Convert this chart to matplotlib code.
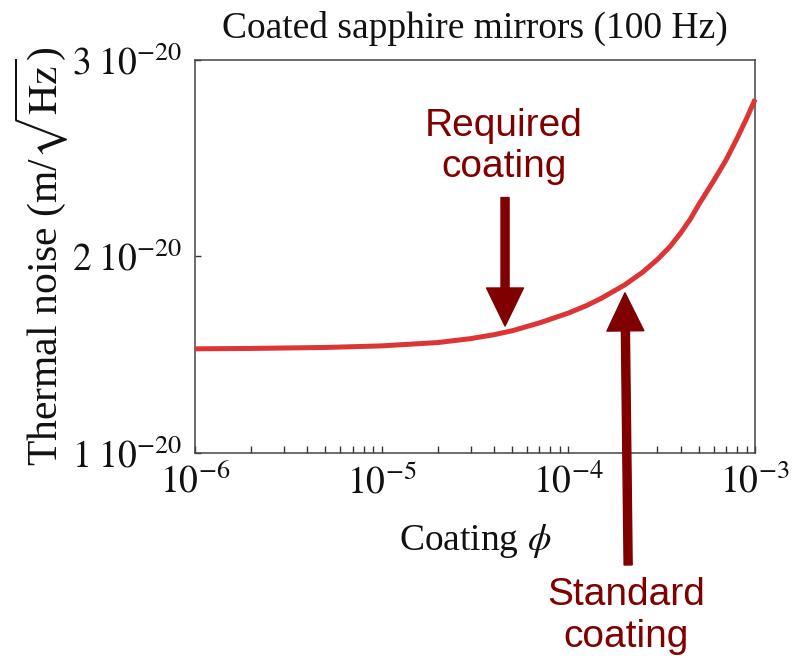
import matplotlib
matplotlib.use("Agg")
import matplotlib.pyplot as plt
from matplotlib.ticker import FixedLocator, LogLocator, NullFormatter

# coating loss angle and resulting thermal noise (units of 1e-20 m/sqrt(Hz))
coating_phi = [1e-6, 2e-6, 5e-6, 1e-5, 2e-5, 3e-5, 4e-5, 5e-5, 7e-5, 1e-4,
               1.25e-4, 1.5e-4, 2e-4, 2.5e-4, 3e-4, 3.5e-4, 4e-4, 4.5e-4,
               5e-4, 6e-4, 7e-4, 8e-4, 9e-4, 1e-3]
noise = [1.530, 1.532, 1.537, 1.545, 1.562, 1.582, 1.602, 1.622, 1.662, 1.712,
         1.750, 1.787, 1.855, 1.920, 1.985, 2.050, 2.120, 2.190,
         2.265, 2.385, 2.492, 2.600, 2.702, 2.800]
noise = [v * 1e-20 for v in noise]

yticks = [1e-20, 2e-20, 3e-20]
ytick_labels = [r'$1\;10^{-20}$', r'$2\;10^{-20}$', r'$3\;10^{-20}$']
xticks = [1e-6, 1e-5, 1e-4, 1e-3]
xtick_labels = [r'$10^{-6}$', r'$10^{-5}$', r'$10^{-4}$', r'$10^{-3}$']

# annotation positions (data coords)
req_tip, req_tail, req_text = (4.58e-5, 1.646e-20), (4.58e-5, 2.30e-20), (4.52e-5, 2.56e-20)
std_tip, std_tail, std_text = (2.01e-4, 1.815e-20), (2.09e-4, 0.43e-20), (2.05e-4, 0.17e-20)

plt.rcParams['font.family'] = 'Liberation Serif'
plt.rcParams['mathtext.fontset'] = 'stix'

red = '#dd3535'
dark = '#800000'

fig = plt.figure(figsize=(7.99, 6.58), dpi=100)
ax = fig.add_axes([0.244, 0.3116, 0.701, 0.5972])

ax.plot(coating_phi, noise, c=red, lw=3.6, solid_capstyle='butt', clip_on=False, zorder=3)

ax.set_xscale('log')
ax.set_xlim(1e-6, 1e-3)
ax.set_ylim(1e-20, 3e-20)

ax.xaxis.set_major_locator(FixedLocator(xticks))
ax.set_xticklabels(xtick_labels)
ax.xaxis.set_minor_locator(LogLocator(base=10, subs=range(2, 10)))
ax.xaxis.set_minor_formatter(NullFormatter())
ax.yaxis.set_major_locator(FixedLocator(yticks))
ax.set_yticklabels(ytick_labels)

ax.tick_params(axis='both', which='both', direction='in', top=False, right=False,
               colors='#333333', labelcolor='#111111')
ax.tick_params(axis='x', which='major', length=5, width=1, labelsize=27, pad=8)
ax.tick_params(axis='x', which='minor', length=5, width=1)
ax.tick_params(axis='y', which='major', length=4, width=1, labelsize=27, pad=9)
for s in ax.spines.values():
    s.set_color('#444444')
    s.set_linewidth(1.1)

ax.set_title('Coated sapphire mirrors (100 Hz)', fontsize=27, color='#111111', pad=16)
ax.set_xlabel(r'Coating $\phi$', fontsize=27, color='#111111')
ax.xaxis.set_label_coords(0.5, -0.175)
ax.set_ylabel(r'Thermal noise (m/$\sqrt{\mathrm{Hz}}$)', fontsize=30, color='#111111')
ax.yaxis.set_label_coords(-0.222, 0.5)

arrow = dict(arrowstyle='simple,head_width=2.66,head_length=2.74,tail_width=0.58',
             color=dark, shrinkA=0, shrinkB=0, mutation_scale=10)
ax.annotate('', xy=req_tip, xytext=req_tail, arrowprops=arrow, annotation_clip=False)
ax.annotate('', xy=std_tip, xytext=std_tail, arrowprops=arrow, annotation_clip=False)

ax.text(*req_text, 'Required\ncoating', family='Liberation Sans', fontsize=28, color=dark,
        ha='center', va='center', linespacing=1.2)
ax.text(*std_text, 'Standard\ncoating', family='Liberation Sans', fontsize=28, color=dark,
        ha='center', va='center', linespacing=1.2, clip_on=False)

fig.savefig('out.png', dpi=100)
